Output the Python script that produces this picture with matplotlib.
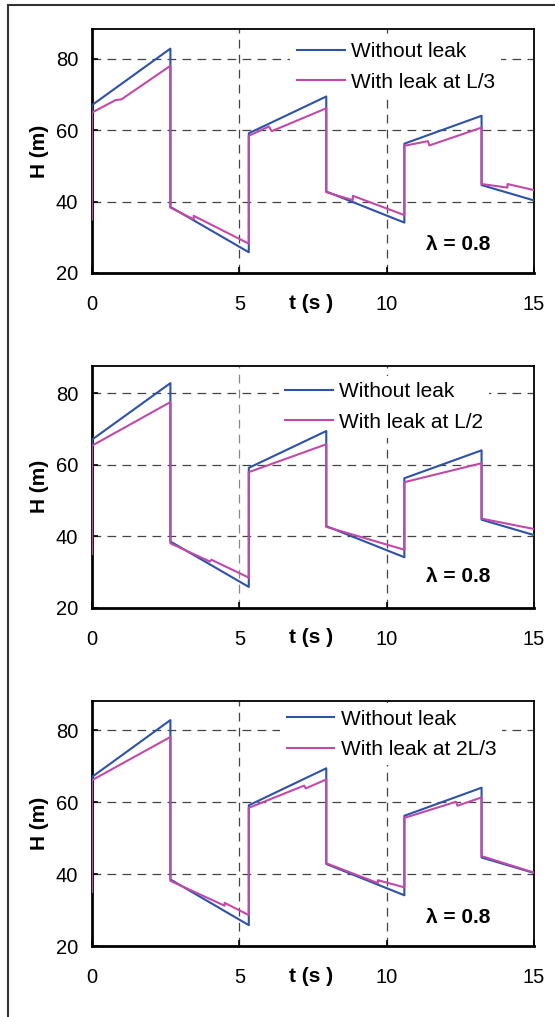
import numpy as np
import matplotlib
matplotlib.use("Agg")
from matplotlib import pyplot as plt
from matplotlib.patches import Rectangle

plt.rcParams['font.family'] = ['Liberation Sans', 'DejaVu Sans']

# Sem vazamento (igual nos tres graficos)
t_sem = [0, 0, 2.66, 2.66, 5.32, 5.32, 7.95, 7.95, 10.6, 10.6, 13.22, 13.22, 15]
h_sem = [35, 67, 82.8, 38.5, 25.8, 59.1, 69.4, 42.8, 34.1, 56.2, 64.0, 44.6, 40.3]

# Com vazamento em L/3
t_l3 = [0, 0, 0.8, 1.0, 2.66, 2.66, 3.45, 3.45, 5.32, 5.32, 6.0, 6.1, 7.95, 7.95,
        8.85, 8.85, 10.6, 10.6, 11.4, 11.45, 13.22, 13.22, 14.1, 14.1, 15]
h_l3 = [35, 64.9, 68.4, 68.6, 78.0, 38.3, 35.0, 36.0, 28.2, 58.4, 61.0, 59.7, 66.1, 42.6,
        40.4, 41.6, 36.2, 55.6, 56.9, 55.7, 60.7, 44.9, 43.9, 44.9, 43.2]

# Com vazamento em L/2
t_l2 = [0, 0, 2.66, 2.66, 4.0, 4.05, 5.32, 5.32, 7.95, 7.95, 10.6, 10.6, 13.22, 13.22, 15]
h_l2 = [35, 65.3, 77.5, 38.0, 32.9, 33.4, 28.4, 57.9, 65.7, 42.6, 36.2, 55.1, 60.4, 44.9, 42.0]

# Com vazamento em 2L/3
t_2l3 = [0, 0, 2.66, 2.66, 4.5, 4.5, 5.32, 5.32, 7.2, 7.25, 7.95, 7.95, 9.7, 9.7,
         10.6, 10.6, 12.35, 12.4, 13.22, 13.22, 15]
h_2l3 = [35, 66.1, 78.1, 38.1, 31.2, 32.0, 28.6, 58.4, 64.6, 63.8, 66.3, 43.0, 37.5, 38.3,
         36.3, 55.6, 60.1, 59.0, 61.3, 45.0, 40.4]

rotulos = ['With leak at L/3', 'With leak at L/2', 'With leak at 2L/3']
curvas = [(t_l3, h_l3), (t_l2, h_l2), (t_2l3, h_2l3)]
ytop = [88.3, 87.7, 88.1]
lambda_y = [27.9, 28.6, 27.8]
leg_x = [0.449, 0.423, 0.426]
leg_y = [0.972, 0.957, 0.99]

azul = '#2d52a8'
rosa = '#c14aa9'
cinza = '#444444'

fig = plt.figure(figsize=(5.55, 10.17), dpi=100)

# moldura externa
fig.patches.append(Rectangle((0.0144, -0.02), 1.2, 0.9951 + 0.02, transform=fig.transFigure,
                             fill=False, edgecolor='#333333', linewidth=1.5))

posicoes = [[0.1658, 0.7316, 0.7964, 0.2399],
            [0.1658, 0.4025, 0.7964, 0.2380],
            [0.1658, 0.0698, 0.7964, 0.2409]]

for i in range(3):
    ax = fig.add_axes(posicoes[i])
    tv, hv = curvas[i]
    ax.plot(t_sem, h_sem, color=azul, lw=1.5, label='Without leak', zorder=3)
    ax.plot(tv, hv, color=rosa, lw=1.5, label=rotulos[i], zorder=4)

    ax.set_xlim(0, 15)
    ax.set_ylim(20, ytop[i])
    ax.set_xticks([0, 5, 10, 15])
    ax.set_yticks([20, 40, 60, 80])

    # grade tracejada
    for yy in [40, 60, 80]:
        ax.axhline(yy, color=cinza, lw=0.9, ls=(0, (7, 5)), zorder=1)
    for xx in [5, 10]:
        cor = '#888888' if (i == 1 and xx == 5) else cinza
        ax.axvline(xx, color=cor, lw=0.9, ls=(0, (7, 5)), zorder=1)

    ax.tick_params(axis='both', direction='in', length=4, width=1.2, labelsize=14.5,
                   colors='black')
    ax.tick_params(axis='x', pad=16)
    ax.tick_params(axis='y', pad=10)
    for lado in ['left', 'bottom']:
        ax.spines[lado].set_linewidth(2.0)
    for lado in ['top', 'right']:
        ax.spines[lado].set_linewidth(1.3)

    ax.set_ylabel('H (m)', fontsize=15, fontweight='bold', labelpad=5)
    ax.text(7.43, -0.125, 't (s )', transform=ax.get_xaxis_transform(),
            ha='center', va='center', fontsize=15, fontweight='bold')
    ax.text(12.42, lambda_y[i], '\u03bb = 0.8', ha='center', va='center',
            fontsize=15, fontweight='bold')

    leg = ax.legend(loc='upper left', bbox_to_anchor=(leg_x[i], leg_y[i]),
                    frameon=True, fancybox=False, edgecolor='none', facecolor='white',
                    framealpha=1, fontsize=15, handlelength=2.3, handletextpad=0.29,
                    labelspacing=0.55, borderpad=0.3, borderaxespad=0)
    leg.set_zorder(2.5)

fig.savefig('out.png', dpi=100)
